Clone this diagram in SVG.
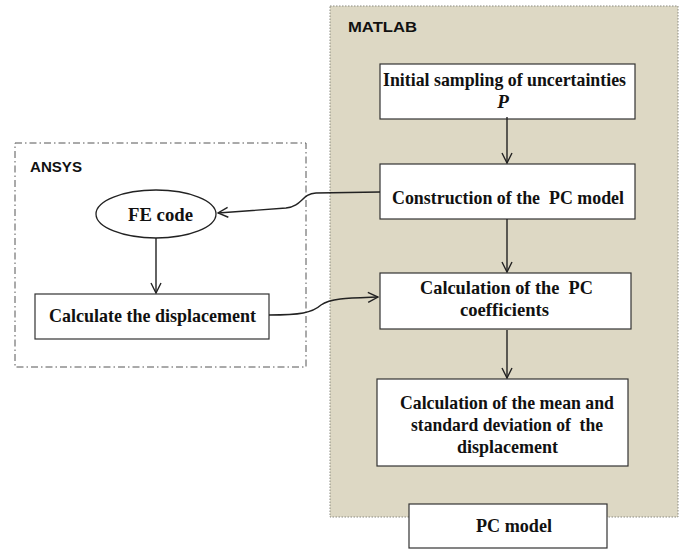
<svg xmlns="http://www.w3.org/2000/svg" width="684" height="549" viewBox="0 0 684 549">
<defs>
<style>
.t{font-family:"Liberation Serif","Times New Roman",serif;font-weight:bold;font-size:19px;fill:#111;text-anchor:middle;white-space:pre}
.lab{font-family:"Liberation Sans",Arial,sans-serif;font-weight:bold;font-size:15px;fill:#111}
.box{fill:#fff;stroke:#333;stroke-width:1.2}
.con{fill:none;stroke:#222;stroke-width:1.4}
</style>
<marker id="arr" viewBox="0 0 12 12" refX="11" refY="6" markerWidth="12" markerHeight="12" markerUnits="userSpaceOnUse" orient="auto">
<path d="M1,1 L11,6 L1,11" fill="none" stroke="#222" stroke-width="1.4"/>
</marker>
</defs>
<rect width="684" height="549" fill="#fff"/>
<g id="matlab">
<rect x="330" y="6" width="348" height="511" fill="#ddd8c4" stroke="#8a8a80" stroke-width="1" stroke-dasharray="1.5,1.5"/>
<text class="lab" x="348" y="32" textLength="69" lengthAdjust="spacingAndGlyphs">MATLAB</text>
</g>
<g id="ansys">
<rect x="15" y="143" width="291" height="224" fill="none" stroke="#555" stroke-width="1" stroke-dasharray="7,3,1.5,3"/>
<text class="lab" x="30" y="172" textLength="52" lengthAdjust="spacingAndGlyphs">ANSYS</text>
</g>
<g id="n-initial">
<rect class="box" x="380" y="64" width="255" height="55"/>
<text class="t" x="504.5" y="86" textLength="243" lengthAdjust="spacingAndGlyphs">Initial sampling of uncertainties</text>
<text class="t" x="503" y="108" font-style="italic">P</text>
</g>
<g id="n-construction">
<rect class="box" x="380" y="164" width="255" height="55"/>
<text class="t" x="508" y="204" textLength="232" lengthAdjust="spacingAndGlyphs">Construction of the  PC model</text>
</g>
<g id="n-coeff">
<rect class="box" x="380" y="273" width="251" height="56"/>
<text class="t" x="506.5" y="294" textLength="173" lengthAdjust="spacingAndGlyphs">Calculation of the  PC</text>
<text class="t" x="504.5" y="316" textLength="89" lengthAdjust="spacingAndGlyphs">coefficients</text>
</g>
<g id="n-mean">
<rect class="box" x="377" y="379" width="251" height="87"/>
<text class="t" x="507" y="409" textLength="214" lengthAdjust="spacingAndGlyphs">Calculation of the mean and</text>
<text class="t" x="507" y="431" textLength="192" lengthAdjust="spacingAndGlyphs">standard deviation of  the</text>
<text class="t" x="507.5" y="453" textLength="101" lengthAdjust="spacingAndGlyphs">displacement</text>
</g>
<g id="n-pcmodel">
<rect class="box" x="409" y="504" width="198" height="44"/>
<text class="t" x="514" y="532" textLength="76" lengthAdjust="spacingAndGlyphs">PC model</text>
</g>
<g id="n-fecode">
<ellipse cx="156" cy="214" rx="60" ry="24" fill="#fff" stroke="#222" stroke-width="1.3"/>
<text class="t" x="160.5" y="221" textLength="65" lengthAdjust="spacingAndGlyphs">FE code</text>
</g>
<g id="n-calcdisp">
<rect class="box" x="35" y="294" width="234" height="45"/>
<text class="t" x="152.5" y="322" textLength="207" lengthAdjust="spacingAndGlyphs">Calculate the displacement</text>
</g>
<g id="connectors">
<path class="con" d="M507,117 L507,163" marker-end="url(#arr)"/>
<path class="con" d="M507,219 L507,272" marker-end="url(#arr)"/>
<path class="con" d="M507,330 L507,378" marker-end="url(#arr)"/>
<path class="con" d="M156,238 L156,293" marker-end="url(#arr)"/>
<path class="con" d="M380,192 L316,193 C301,194 303,206 286,208 L218,213" marker-end="url(#arr)"/>
<path class="con" d="M269,315 C300,315 312,313 321,305 C331,298 350,298 378,297" marker-end="url(#arr)"/>
</g>
</svg>
